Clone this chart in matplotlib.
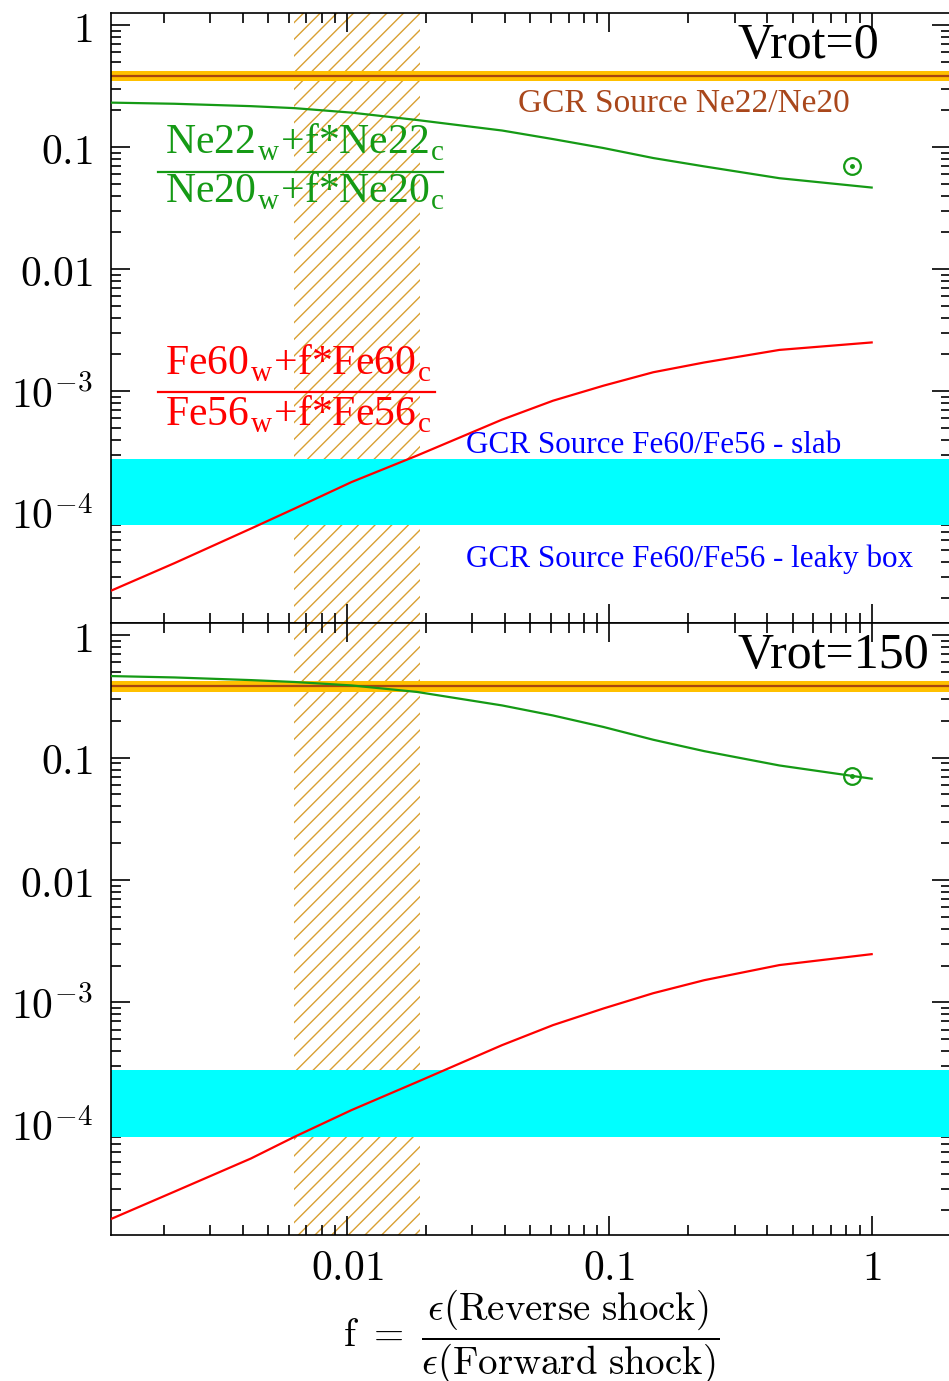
import numpy as np
import matplotlib
matplotlib.use("Agg")
import matplotlib.pyplot as plt
from matplotlib.ticker import LogLocator, NullFormatter

plt.rcParams["mathtext.fontset"] = "cm"
plt.rcParams["hatch.linewidth"] = 1.0

# Fraction of reverse-shock to forward-shock efficiency
f_vals = [0.00125, 0.0022, 0.0043, 0.0063, 0.0104, 0.0185, 0.039,
          0.061, 0.095, 0.147, 0.23, 0.445, 1.0]

# Vrot = 0 model
ne_ratio_v0 = [0.232, 0.227, 0.217, 0.209, 0.192, 0.167, 0.137,
               0.1165, 0.0984, 0.0815, 0.0696, 0.0557, 0.0467]
fe_ratio_v0 = [2.30e-5, 3.9e-5, 7.48e-5, 1.09e-4, 1.80e-4, 2.97e-4, 5.85e-4,
               8.36e-4, 1.11e-3, 1.43e-3, 1.72e-3, 2.18e-3, 2.51e-3]

# Vrot = 150 model
ne_ratio_v150 = [0.464, 0.452, 0.43, 0.415, 0.389, 0.344, 0.267,
                 0.221, 0.178, 0.14, 0.113, 0.0863, 0.0673]
fe_ratio_v150 = [1.69e-5, 2.85e-5, 5.31e-5, 7.98e-5, 1.32e-4, 2.24e-4, 4.48e-4,
                 6.53e-4, 8.93e-4, 1.19e-3, 1.52e-3, 2.02e-3, 2.48e-3]

# Solar Ne22/Ne20 point
sun_f = 0.84
sun_ne_ratio = 0.0705

# GCR source constraints
ne_src_low, ne_src_mid, ne_src_high = 0.347, 0.382, 0.42
fe_src_low, fe_src_high = 8.0e-5, 2.8e-4

# Allowed range of f
f_band_low, f_band_high = 0.0063, 0.019

panel_titles = ["Vrot=0", "Vrot=150"]

ytick_vals = [1e-4, 1e-3, 1e-2, 0.1, 1.0]
ytick_labels = [r"$10^{-4}$", r"$10^{-3}$", r"$\mathrm{0.01}$", r"$\mathrm{0.1}$", r"$\mathrm{1}$"]
xtick_vals = [0.01, 0.1, 1.0]
xtick_labels = [r"$\mathrm{0.01}$", r"$\mathrm{0.1}$", r"$\mathrm{1}$"]

GREEN = "#159a15"
RED = "#ff0000"
CYAN = "#00ffff"
GOLD = "#ffc000"
BROWN_LINE = "#a8460f"
BROWN_TEXT = "#a9471b"
HATCH = "#d9a032"
BLUE = "#0000ff"
SERIF = "Liberation Serif"

W, H = 949, 1381
fig = plt.figure(figsize=(W / 100, H / 100), dpi=100)

xlim = (10 ** -2.9, 2.0)
ylim = (10 ** -4.9, 10 ** 0.1)
decade_px = 262.3
left = 111 / W
width = (np.log10(xlim[1]) - np.log10(xlim[0])) * decade_px / W

ax_top = fig.add_axes([left, (H - 623) / H, width, 610 / H])
ax_bot = fig.add_axes([left, (H - 1235) / H, width, 612 / H])

panels = [
    (ax_top, ne_ratio_v0, fe_ratio_v0, panel_titles[0]),
    (ax_bot, ne_ratio_v150, fe_ratio_v150, panel_titles[1]),
]

for ax, ne, fe, title in panels:
    ax.set_xscale("log")
    ax.set_yscale("log")
    ax.set_xlim(*xlim)
    ax.set_ylim(*ylim)

    ax.axvspan(f_band_low, f_band_high, facecolor="none", edgecolor=HATCH,
               hatch="//", lw=0, zorder=0.5)
    ax.axhspan(fe_src_low, fe_src_high, color=CYAN, lw=0, zorder=3)
    ax.axhspan(ne_src_low, ne_src_high, color=GOLD, lw=0, zorder=3)
    ax.axhline(ne_src_mid, color=BROWN_LINE, lw=1.6, zorder=3.1)

    ax.plot(f_vals, ne, color=GREEN, lw=1.6, zorder=4)
    ax.plot(f_vals, fe, color=RED, lw=1.6, zorder=4)
    ax.plot([sun_f], [sun_ne_ratio], "o", ms=12, mfc="none", mec=GREEN, mew=1.6, zorder=4)
    ax.plot([sun_f], [sun_ne_ratio], "o", ms=2.5, color=GREEN, zorder=4)

    ax.set_yticks(ytick_vals, ytick_labels)
    ax.yaxis.set_minor_locator(LogLocator(base=10, subs=np.arange(2, 10), numticks=30))
    ax.yaxis.set_minor_formatter(NullFormatter())
    ax.xaxis.set_minor_locator(LogLocator(base=10, subs=np.arange(2, 10), numticks=30))
    ax.xaxis.set_minor_formatter(NullFormatter())
    ax.tick_params(which="both", direction="in", top=True, right=True, width=1.2,
                   labelsize=30)
    ax.tick_params(axis="y", pad=13)
    ax.tick_params(axis="x", pad=9)
    ax.tick_params(which="major", length=14)
    ax.tick_params(which="minor", length=7)
    for sp in ax.spines.values():
        sp.set_linewidth(1.2)
        sp.set_zorder(3.5)

    ax.text(0.7456, 0.947, title, transform=ax.transAxes, ha="left", va="center",
            fontsize=36, family=SERIF, zorder=5)

ax_top.set_xticks(xtick_vals, ["", "", ""])
ax_bot.set_xticks(xtick_vals, xtick_labels)

# Annotations in the upper panel
ax_top.text(0.4848, 0.8377, "GCR Source Ne22/Ne20", transform=ax_top.transAxes,
            ha="left", va="baseline", fontsize=24, family=SERIF, color=BROWN_TEXT, zorder=5)
ax_top.text(0.4228, 0.2787, "GCR Source Fe60/Fe56 - slab", transform=ax_top.transAxes,
            ha="left", va="baseline", fontsize=22.4, family=SERIF, color=BLUE, zorder=5)
ax_top.text(0.4228, 0.0918, "GCR Source Fe60/Fe56 - leaky box", transform=ax_top.transAxes,
            ha="left", va="baseline", fontsize=22.4, family=SERIF, color=BLUE, zorder=5)


def ratio_label(ax, num, den, x0, x1, y_num, y_bar, y_den, color):
    ax.text(x0 + 0.008, y_num, num, transform=ax.transAxes, ha="left", va="baseline",
            fontsize=30, family=SERIF, color=color, zorder=5)
    ax.plot([x0, x1], [y_bar, y_bar], transform=ax.transAxes, color=color, lw=1.6,
            clip_on=False, zorder=5)
    ax.text(x0 + 0.008, y_den, den, transform=ax.transAxes, ha="left", va="baseline",
            fontsize=30, family=SERIF, color=color, zorder=5)


ratio_label(ax_top,
            r"Ne22$_\mathregular{w}$+f*Ne22$_\mathregular{c}$",
            r"Ne20$_\mathregular{w}$+f*Ne20$_\mathregular{c}$",
            0.056, 0.3954, 0.7689, 0.7393, 0.6885, GREEN)
ratio_label(ax_top,
            r"Fe60$_\mathregular{w}$+f*Fe60$_\mathregular{c}$",
            r"Fe56$_\mathregular{w}$+f*Fe56$_\mathregular{c}$",
            0.056, 0.3859, 0.4066, 0.3787, 0.323, RED)

# x-axis label as a fraction
ax_bot.text(0.5, -0.167,
            r"$\mathrm{f}\ =\ \dfrac{\epsilon(\mathrm{Reverse\ shock})}{\epsilon(\mathrm{Forward\ shock})}$",
            transform=ax_bot.transAxes, ha="center", va="center", fontsize=28)

fig.savefig("out.png", dpi=100)
